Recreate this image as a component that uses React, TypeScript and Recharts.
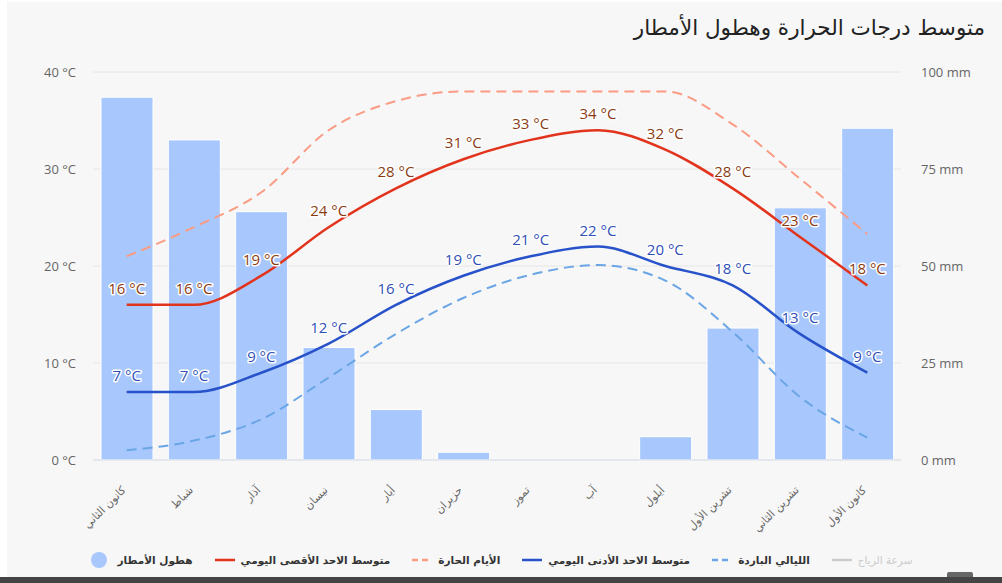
import React from 'react';
import { ComposedChart, Bar, Line, XAxis, YAxis, CartesianGrid, LabelList } from 'recharts';

const months = ['كانون الثاني', 'شباط', 'آذار', 'نيسان', 'أيار', 'حزيران', 'تموز', 'آب', 'أيلول', 'تشرين الأول', 'تشرين الثاني', 'كانون الأول'];
const rainfall = [93.5, 82.5, 64, 29, 13, 2, 0, 0, 6, 34, 65, 85.5];
const maxTemps = [16, 16, 19, 24, 28, 31, 33, 34, 32, 28, 23, 18];
const hotDays = [21, 24, 27.6, 34, 37, 38, 38, 38, 38, 34.6, 29, 23.3];
const minTemps = [7, 7, 9, 12, 16, 19, 21, 22, 20, 18, 13, 9];
const coldNights = [1, 2, 4.2, 8.5, 13, 16.7, 19.1, 20.1, 18.5, 13.2, 6.5, 2.3];
const tempTicks = [0, 10, 20, 30, 40];
const rainTicks = [0, 25, 50, 75, 100];

const data = months.map((m, i) => ({
  month: m,
  rain: rainfall[i],
  max: maxTemps[i],
  hot: hotDays[i],
  min: minTemps[i],
  cold: coldNights[i],
}));

const MonthTick = (props: any) => {
  const { x, y, payload } = props;
  return (
    <g transform={`translate(${x - 3},${y + 20})`}>
      <text textAnchor="end" transform="rotate(-45)" fontSize={11} fill="#666" fontFamily="DejaVu Sans" dy="0.35em">
        {payload.value}
      </text>
    </g>
  );
};

const makeLabel = (color: string) => (props: any) => {
  const { x, y, value } = props;
  return (
    <text
      x={x}
      y={y - 11}
      textAnchor="middle"
      fontSize={15}
      fill={color}
      stroke="#ffffff"
      strokeWidth={3}
      strokeLinejoin="round"
      paintOrder="stroke"
      fontFamily="Open Sans"
    >
      {`${value} °C`}
    </text>
  );
};

const legendItems = [
  { name: 'هطول الأمطار', kind: 'circle', color: '#a8c8fd', active: true },
  { name: 'متوسط الاحد الأقصى اليومي', kind: 'line', color: '#e2341d', active: true },
  { name: 'الأيام الحارة', kind: 'dash', color: '#fa9b84', active: true },
  { name: 'متوسط الاحد الأدنى اليومي', kind: 'line', color: '#2752c9', active: true },
  { name: 'الليالي الباردة', kind: 'dash', color: '#6aa5e5', active: true },
  { name: 'سرعة الرياح', kind: 'line', color: '#cccccc', active: false },
];

const LegendIcon = ({ kind, color }: { kind: string; color: string }) => {
  if (kind === 'circle') {
    return (
      <svg width={18} height={18} style={{ marginRight: 10 }}>
        <circle cx={9} cy={9} r={8} fill={color} />
      </svg>
    );
  }
  return (
    <svg width={20} height={10} style={{ marginRight: 6 }}>
      <line x1={0} y1={5} x2={20} y2={5} stroke={color} strokeWidth={2.5} strokeDasharray={kind === 'dash' ? '6 4' : undefined} />
    </svg>
  );
};

export default function App() {
  return (
    <div style={{ position: 'absolute', left: 0, top: 0, width: 1002, height: 583, background: '#ffffff', overflow: 'hidden' }}>
      <div style={{ position: 'absolute', left: 7, top: 2, width: 995, height: 575, background: '#f7f7f7' }} />
      <div
        style={{
          position: 'absolute',
          left: 0,
          top: 15,
          width: 985,
          textAlign: 'right',
          fontSize: 21.5,
          fontFamily: 'DejaVu Sans',
          color: '#222',
          direction: 'rtl',
          whiteSpace: 'nowrap',
        }}
      >
        متوسط درجات الحرارة وهطول الأمطار
      </div>
      <div style={{ position: 'absolute', left: 0, top: 0 }}>
        <ComposedChart width={1002} height={545} data={data} margin={{ top: 72, right: 0, bottom: 15, left: 0 }}>
          <CartesianGrid vertical={false} stroke="#e6e6e6" yAxisId="temp" />
          <XAxis
            dataKey="month"
            tick={<MonthTick />}
            tickLine={false}
            axisLine={{ stroke: '#d8dee8' }}
            interval={0}
            height={70}
          />
          <YAxis
            yAxisId="temp"
            orientation="left"
            domain={[0, 40]}
            ticks={tempTicks}
            width={93}
            tickLine={false}
            axisLine={false}
            tickMargin={11}
            tickFormatter={(v: number) => `${v} °C`}
            tick={{ fontSize: 13, fill: '#666', fontFamily: 'Open Sans' }}
          />
          <YAxis
            yAxisId="rain"
            orientation="right"
            domain={[0, 100]}
            ticks={rainTicks}
            width={101}
            tickLine={false}
            axisLine={false}
            tickMargin={14}
            tickFormatter={(v: number) => `${v} mm`}
            tick={{ fontSize: 13, fill: '#666', fontFamily: 'Open Sans', textAnchor: 'start' }}
          />
          <Bar yAxisId="rain" dataKey="rain" barSize={52} fill="#a8c8fd" stroke="#ffffff" strokeWidth={1} isAnimationActive={false} />
          <Line yAxisId="temp" type="monotone" dataKey="hot" stroke="#fa9b84" strokeWidth={2} strokeDasharray="10 6" dot={false} isAnimationActive={false} />
          <Line yAxisId="temp" type="monotone" dataKey="cold" stroke="#6aa5e5" strokeWidth={2} strokeDasharray="10 6" dot={false} isAnimationActive={false} />
          <Line yAxisId="temp" type="monotone" dataKey="max" stroke="#e2341d" strokeWidth={2.5} dot={false} isAnimationActive={false}>
            <LabelList dataKey="max" content={makeLabel('#8a3b12')} />
          </Line>
          <Line yAxisId="temp" type="monotone" dataKey="min" stroke="#2752c9" strokeWidth={2.5} dot={false} isAnimationActive={false}>
            <LabelList dataKey="min" content={makeLabel('#2f4fb5')} />
          </Line>
        </ComposedChart>
      </div>
      <div
        style={{
          position: 'absolute',
          left: 0,
          top: 551,
          width: 1002,
          display: 'flex',
          justifyContent: 'center',
          alignItems: 'center',
          gap: 22,
          fontFamily: 'DejaVu Sans',
          fontSize: 10.5,
        }}
      >
        {legendItems.map((it) => (
          <div key={it.name} style={{ display: 'flex', alignItems: 'center' }}>
            <LegendIcon kind={it.kind} color={it.color} />
            <span style={{ color: it.active ? '#333' : '#cccccc', fontWeight: it.active ? 'bold' : 'normal', direction: 'rtl' }}>{it.name}</span>
          </div>
        ))}
      </div>
      <div style={{ position: 'absolute', left: 0, top: 577, width: 1002, height: 6, background: '#444' }} />
      <div style={{ position: 'absolute', left: 947, top: 572, width: 26, height: 5, background: '#666', borderRadius: '2px 2px 0 0' }} />
    </div>
  );
}
